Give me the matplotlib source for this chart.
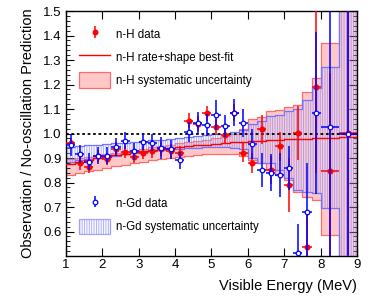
import numpy as np
import matplotlib
matplotlib.use("Agg")
import matplotlib.pyplot as plt
from matplotlib.patches import Patch
from matplotlib.lines import Line2D

plt.rcParams['font.family'] = ['Liberation Sans', 'DejaVu Sans']

# ---- data ----
bin_edges = [1.0, 1.25, 1.5, 1.75, 2.0, 2.25, 2.5, 2.75, 3.0, 3.25, 3.5, 3.75, 4.0,
             4.25, 4.5, 4.75, 5.0, 5.25, 5.5, 5.75, 6.0, 6.25, 6.5, 6.75, 7.0,
             7.25, 7.5, 7.75, 8.0, 8.5, 9.0]

nh_obs = [0.960, 0.878, 0.862, 0.908, 0.895, 0.938, 0.925, 0.905, 0.922, 0.930,
          0.938, 0.930, 0.920, 1.053, 1.040, 1.082, 1.027, 0.994, 1.085, 0.922,
          0.879, 1.017, 0.851, 0.947, 0.790, 1.002, 0.538, 1.190, 0.846, 1.003]
nh_err = [0.022, 0.025, 0.025, 0.025, 0.025, 0.026, 0.026, 0.027, 0.027, 0.028,
          0.028, 0.029, 0.030, 0.030, 0.031, 0.032, 0.033, 0.034, 0.035, 0.040,
          0.040, 0.058, 0.058, 0.060, 0.110, 0.110, 0.150, 0.350, 0.400, 0.500]

ngd_obs = [0.955, 0.916, 0.885, 0.910, 0.910, 0.945, 0.970, 0.928, 0.967, 0.962,
           0.940, 0.935, 0.890, 1.007, 1.042, 1.035, 1.075, 1.030, 1.085, 1.044,
           0.957, 0.851, 0.840, 0.830, 0.858, 0.511, 0.680, 1.085, 1.028, 1.000]
ngd_err = [0.045, 0.037, 0.035, 0.035, 0.035, 0.035, 0.035, 0.035, 0.035, 0.035,
           0.045, 0.040, 0.035, 0.040, 0.045, 0.045, 0.060, 0.045, 0.055, 0.058,
           0.060, 0.068, 0.075, 0.090, 0.090, 0.120, 0.200, 0.330, 0.700, 0.800]

nh_fit = [0.875, 0.885, 0.892, 0.900, 0.906, 0.912, 0.918, 0.923, 0.928, 0.933,
          0.937, 0.941, 0.945, 0.949, 0.952, 0.955, 0.958, 0.961, 0.964, 0.966,
          0.968, 0.970, 0.972, 0.974, 0.976, 0.977, 0.979, 0.980, 0.982, 0.985]

nh_sys_lo = [0.830, 0.838, 0.846, 0.853, 0.860, 0.866, 0.872, 0.878, 0.884, 0.890,
             0.895, 0.900, 0.905, 0.910, 0.913, 0.916, 0.918, 0.918, 0.916, 0.910,
             0.890, 0.880, 0.855, 0.830, 0.810, 0.760, 0.740, 0.730, 0.585, 0.000]
nh_sys_hi = [0.895, 0.900, 0.905, 0.910, 0.915, 0.920, 0.926, 0.932, 0.938, 0.944,
             0.950, 0.955, 0.960, 0.965, 0.970, 0.975, 0.980, 0.988, 0.997, 1.017,
             1.060, 1.067, 1.090, 1.096, 1.110, 1.116, 1.170, 1.226, 1.370, 2.000]

ngd_sys_lo = [0.885, 0.890, 0.895, 0.900, 0.905, 0.910, 0.915, 0.920, 0.925, 0.930,
              0.933, 0.936, 0.938, 0.940, 0.942, 0.943, 0.944, 0.944, 0.942, 0.935,
              0.900, 0.880, 0.880, 0.850, 0.820, 0.770, 0.760, 0.757, 0.695, 0.000]
ngd_sys_hi = [0.945, 0.950, 0.952, 0.955, 0.958, 0.960, 0.963, 0.966, 0.969, 0.972,
              0.975, 0.978, 0.981, 0.985, 0.988, 0.992, 0.996, 1.000, 1.005, 1.015,
              1.040, 1.050, 1.070, 1.075, 1.090, 1.100, 1.135, 1.186, 1.270, 2.000]

x_ticks = [1, 2, 3, 4, 5, 6, 7, 8, 9]
y_ticks = [0.6, 0.7, 0.8, 0.9, 1.0, 1.1, 1.2, 1.3, 1.4, 1.5]

# ---- derived ----
edges = np.array(bin_edges)
centers = 0.5 * (edges[:-1] + edges[1:])
halfw = 0.5 * np.diff(edges)

def ext(a):
    a = np.asarray(a, dtype=float)
    return np.append(a, a[-1])

RED = '#ff0000'
PINK = '#ffc8c8'
PINK_EDGE = '#ff6a6a'
BLUE = '#0000ff'
HATCH_C = (0.45, 0.45, 1.0, 0.6)
GD_FACE = (0.88, 0.88, 1.0, 0.2)
GD_EDGE = (0.45, 0.45, 1.0)

plt.rcParams['hatch.linewidth'] = 0.6

fig = plt.figure(figsize=(3.7, 3.0), dpi=100)
ax = fig.add_axes([66/370, 44/300, 291/370, 245/300])

# n-H systematic band
ax.fill_between(edges, ext(nh_sys_lo), ext(nh_sys_hi), step='post',
                facecolor=PINK, edgecolor='none', linewidth=0, zorder=1)
ax.step(edges, ext(nh_sys_lo), where='post', color=PINK_EDGE, lw=0.9, zorder=1.1)
ax.step(edges, ext(nh_sys_hi), where='post', color=PINK_EDGE, lw=0.9, zorder=1.1)

# n-Gd systematic band (hatched)
ax.fill_between(edges, ext(ngd_sys_lo), ext(ngd_sys_hi), step='post',
                facecolor=GD_FACE, edgecolor=HATCH_C,
                hatch='|||||||', linewidth=0, zorder=2)
ax.step(edges, ext(ngd_sys_lo), where='post', color=GD_EDGE, lw=0.9, zorder=2.1)
ax.step(edges, ext(ngd_sys_hi), where='post', color=GD_EDGE, lw=0.9, zorder=2.1)

# best fit
ax.step(edges, ext(nh_fit), where='post', color=RED, lw=1.0, zorder=3)

# reference line
ax.axhline(1.0, color='black', ls=(0, (1.5, 1.5)), lw=1.3, zorder=3.5)

# n-H data
ax.hlines(nh_obs, centers - halfw, centers + halfw, color=RED, lw=1.1, zorder=4)
ax.errorbar(centers, nh_obs, yerr=nh_err, fmt='o', color=RED, ms=3.3,
            elinewidth=1.1, capsize=0, zorder=4.1, label='n-H data')

# n-Gd data
ax.hlines(ngd_obs, centers - halfw, centers + halfw, color=BLUE, lw=1.1, zorder=5)
ax.errorbar(centers, ngd_obs, yerr=ngd_err, fmt='o', color=BLUE, ms=3.3,
            mfc='white', mec=BLUE, mew=0.9, elinewidth=1.1, capsize=0,
            zorder=5.1, label='n-Gd data')

ax.set_xlim(1, 9)
ax.set_ylim(0.5, 1.5)
ax.set_xticks(x_ticks)
ax.set_xticklabels([str(t) for t in x_ticks])
ax.set_yticks(y_ticks)
ax.set_yticklabels(['%.1f' % t for t in y_ticks])
ax.set_yticks(np.arange(0.5, 1.501, 0.02), minor=True)
ax.tick_params(axis='both', which='both', direction='in', top=True, right=True,
               labelsize=9.5)
ax.tick_params(which='major', length=6, width=0.8)
ax.tick_params(which='minor', length=3, width=0.6)
ax.tick_params(axis='x', pad=2)
ax.tick_params(axis='y', pad=3)
for s in ax.spines.values():
    s.set_linewidth(1.0)

ax.set_xlabel('Visible Energy (MeV)', fontsize=10.5, loc='right', labelpad=6)
ax.set_ylabel('Observation / No-oscillation Prediction', fontsize=10.5, labelpad=6)

# legends
hh, ll = ax.get_legend_handles_labels()
hdict = dict(zip(ll, hh))

h_fit = Line2D([], [], color=RED, lw=1.0)
h_nh_sys = Patch(facecolor=PINK, edgecolor=PINK_EDGE, lw=0.9)
h_gd_sys = Patch(facecolor=GD_FACE, edgecolor=HATCH_C, hatch='|||||||', lw=0.9)

leg_kw = dict(loc='upper left', frameon=False, fontsize=8.3, handlelength=2.7,
              handleheight=1.65, labelspacing=0.68, handletextpad=0.5,
              borderaxespad=0.0, borderpad=0.0)
leg1 = ax.legend([hdict['n-H data'], h_fit, h_nh_sys],
                 ['n-H data', 'n-H rate+shape best-fit', 'n-H systematic uncertainty'],
                 bbox_to_anchor=(0.045, 0.937), **leg_kw)
ax.add_artist(leg1)
leg2 = ax.legend([hdict['n-Gd data'], h_gd_sys],
                 ['n-Gd data', 'n-Gd systematic uncertainty'],
                 bbox_to_anchor=(0.045, 0.245), **leg_kw)

fig.savefig('out.png', dpi=100)
